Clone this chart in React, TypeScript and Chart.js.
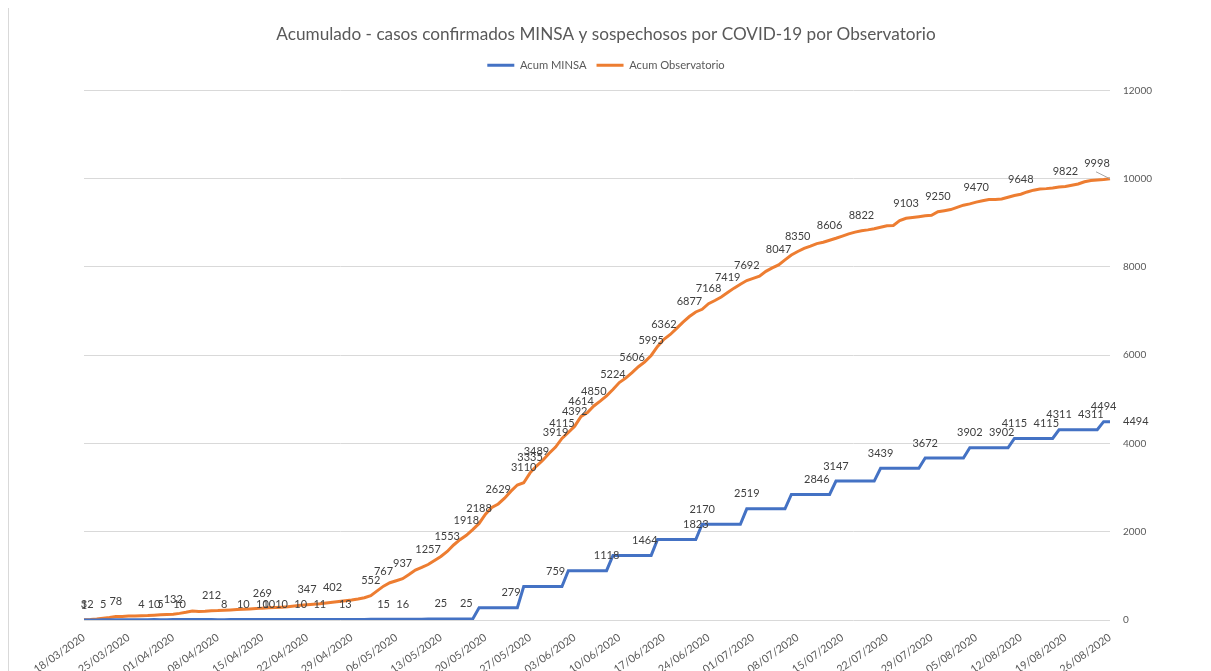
import React, { useEffect, useRef } from "react";
import { Chart, registerables } from "chart.js";

Chart.register(...registerables);

const TITLE = "Acumulado - casos confirmados MINSA y sospechosos por COVID-19 por Observatorio";
const SERIES_NAMES = ["Acum MINSA", "Acum Observatorio"];

// Daily categories 18/03/2020 .. 26/08/2020
const FIRST_DAY = "2020-03-18";
const DAY_COUNT = 162;
const dates: string[] = (() => {
  const out: string[] = [];
  const start = new Date(FIRST_DAY + "T00:00:00Z").getTime();
  for (let i = 0; i < DAY_COUNT; i++) {
    const d = new Date(start + i * 86400000);
    const dd = String(d.getUTCDate()).padStart(2, "0");
    const mm = String(d.getUTCMonth() + 1).padStart(2, "0");
    out.push(`${dd}/${mm}/${d.getUTCFullYear()}`);
  }
  return out;
})();

const minsa: number[] = [
  1, 2, 2, 5, 5, 5, 5, 5, 5, 4,
  5, 10, 5, 6, 9, 10, 10, 10, 10, 9,
  9, 8, 8, 9, 10, 10, 10, 10, 10, 10,
  10, 10, 10, 10, 10, 10, 11, 11, 12, 12,
  13, 13, 13, 14, 14, 15, 15, 15, 16, 16,
  16, 16, 16, 18, 20, 25, 25, 25, 25, 25,
  25, 25, 279, 279, 279, 279, 279, 279, 279, 759,
  759, 759, 759, 759, 759, 759, 1118, 1118, 1118, 1118,
  1118, 1118, 1118, 1464, 1464, 1464, 1464, 1464, 1464, 1464,
  1823, 1823, 1823, 1823, 1823, 1823, 1823, 2170, 2170, 2170,
  2170, 2170, 2170, 2170, 2519, 2519, 2519, 2519, 2519, 2519,
  2519, 2846, 2846, 2846, 2846, 2846, 2846, 2846, 3147, 3147,
  3147, 3147, 3147, 3147, 3147, 3439, 3439, 3439, 3439, 3439,
  3439, 3439, 3672, 3672, 3672, 3672, 3672, 3672, 3672, 3902,
  3902, 3902, 3902, 3902, 3902, 3902, 4115, 4115, 4115, 4115,
  4115, 4115, 4115, 4311, 4311, 4311, 4311, 4311, 4311, 4311,
  4494, 4494,
];

const observatorio: number[] = [
  3, 10, 22, 38, 55, 78, 82, 92, 90, 96,
  100, 108, 118, 125, 132, 150, 175, 205, 190, 198,
  212, 215, 222, 228, 236, 243, 250, 258, 269, 275,
  282, 290, 300, 315, 332, 347, 356, 368, 385, 402,
  418, 436, 455, 478, 505, 552, 660, 767, 845, 890,
  937, 1030, 1130, 1190, 1257, 1350, 1440, 1553, 1700, 1820,
  1918, 2050, 2188, 2400, 2550, 2629, 2760, 2920, 3060, 3110,
  3335, 3489, 3620, 3780, 3919, 4115, 4250, 4392, 4614, 4700,
  4850, 4960, 5080, 5224, 5380, 5480, 5606, 5740, 5850, 5995,
  6200, 6362, 6470, 6610, 6750, 6877, 6980, 7040, 7168, 7240,
  7320, 7419, 7520, 7610, 7692, 7740, 7790, 7900, 7980, 8047,
  8160, 8270, 8350, 8420, 8470, 8530, 8560, 8606, 8650, 8700,
  8750, 8790, 8822, 8840, 8865, 8900, 8935, 8940, 9050, 9103,
  9120, 9140, 9160, 9170, 9250, 9275, 9300, 9350, 9400, 9430,
  9470, 9500, 9530, 9530, 9540, 9580, 9620, 9648, 9700, 9740,
  9765, 9775, 9790, 9810, 9822, 9850, 9880, 9930, 9960, 9970,
  9980, 9998,
];

// Which points carry a value label
const minsaLabelDays = [0, 1, 3, 9, 11, 12, 15, 22, 25, 28, 29, 31, 34, 37, 41, 47, 50, 56, 60, 67, 74, 82, 88, 96, 97, 104, 115, 118, 125, 132, 139, 144, 146, 151, 153, 158, 160];
const obsLabelDays = [0, 5, 14, 20, 28, 35, 39, 45, 47, 50, 54, 57, 60, 62, 65, 69, 70, 71, 74, 75, 77, 78, 80, 83, 86, 89, 91, 95, 98, 101, 104, 109, 112, 117, 122, 129, 134, 140, 147, 154];

const Y_MIN = 0;
const Y_MAX = 12000;
const Y_STEP = 2000;
const X_TICK_EVERY = 7;

const FONT = "Lato, 'Liberation Sans', sans-serif";

const valueLabels = {
  id: "valueLabels",
  afterInit(chart: any) {
    // leave a little room between the legend and the plot area
    const lg = chart.legend;
    if (lg && !lg.__patched) {
      const fit = lg.fit.bind(lg);
      lg.fit = () => {
        fit();
        lg.height += 9.6;
      };
      lg.__patched = true;
    }
  },
  afterDatasetsDraw(chart: any) {
    const ctx = chart.ctx;
    ctx.save();
    ctx.font = `11px ${FONT}`;
    ctx.fillStyle = "#404040";
    ctx.textAlign = "center";
    ctx.textBaseline = "middle";
    const drawAbove = (dsIndex: number, days: number[]) => {
      const meta = chart.getDatasetMeta(dsIndex);
      const data = chart.data.datasets[dsIndex].data;
      days.forEach((d) => {
        const el = meta.data[d];
        if (!el) return;
        ctx.fillText(String(data[d]), el.x, el.y - 15);
      });
    };
    drawAbove(0, minsaLabelDays);
    drawAbove(1, obsLabelDays);

    // last MINSA point: label to the right
    const mMeta = chart.getDatasetMeta(0);
    const mLast = mMeta.data[minsa.length - 1];
    ctx.textAlign = "left";
    ctx.fillText(String(minsa[minsa.length - 1]), mLast.x + 13, mLast.y);

    // last Observatorio point: moved label with leader line
    const oMeta = chart.getDatasetMeta(1);
    const oLast = oMeta.data[observatorio.length - 1];
    ctx.textAlign = "center";
    ctx.fillText(String(observatorio[observatorio.length - 1]), oLast.x - 13, oLast.y - 15);
    ctx.strokeStyle = "#a6a6a6";
    ctx.lineWidth = 1;
    ctx.beginPath();
    ctx.moveTo(oLast.x - 14, oLast.y - 7);
    ctx.lineTo(oLast.x, oLast.y);
    ctx.stroke();
    ctx.restore();
  },
};

export default function App() {
  const canvasRef = useRef<HTMLCanvasElement | null>(null);

  useEffect(() => {
    if (!canvasRef.current) return;
    const chart = new Chart(canvasRef.current, {
      type: "line",
      data: {
        labels: dates,
        datasets: [
          {
            label: SERIES_NAMES[0],
            data: minsa,
            borderColor: "#4472C4",
            backgroundColor: "#4472C4",
            borderWidth: 3,
            pointRadius: 0,
            tension: 0,
          },
          {
            label: SERIES_NAMES[1],
            data: observatorio,
            borderColor: "#ED7D31",
            backgroundColor: "#ED7D31",
            borderWidth: 3,
            pointRadius: 0,
            tension: 0,
          },
        ],
      },
      options: {
        animation: false,
        responsive: true,
        maintainAspectRatio: false,
        layout: { padding: 0 },
        plugins: {
          title: {
            display: true,
            text: TITLE,
            color: "#595959",
            font: { family: FONT, size: 17.2, weight: "normal" },
            padding: { top: 16, bottom: 5 },
          },
          legend: {
            display: true,
            position: "top",
            labels: {
              color: "#595959",
              font: { family: FONT, size: 11.2 },
              boxWidth: 27,
              boxHeight: 3,
              padding: 10,
              generateLabels: (c: any) =>
                (Chart.defaults.plugins.legend.labels as any)
                  .generateLabels(c)
                  .map((it: any) => ({ ...it, lineWidth: 0 })),
            },
          },
          tooltip: { enabled: false },
        },
        scales: {
          x: {
            type: "category",
            grid: { display: false },
            border: { display: false },
            ticks: {
              autoSkip: false,
              minRotation: 35,
              maxRotation: 35,
              padding: 3,
              color: "#595959",
              font: { family: FONT, size: 10.8 },
              callback: (_v: any, i: number) => (i % X_TICK_EVERY === 0 ? dates[i] : null),
            },
            afterFit: (s: any) => {
              s.height = 51;
              s.paddingLeft = 75;
            },
          },
          y: {
            position: "right",
            min: Y_MIN,
            max: Y_MAX,
            grid: { color: "#d9d9d9", drawTicks: false, lineWidth: 1 },
            border: { display: false },
            ticks: {
              stepSize: Y_STEP,
              padding: 13,
              color: "#595959",
              font: { family: FONT, size: 10 },
              callback: (v: any) => String(v),
            },
            afterFit: (s: any) => {
              s.width = 93;
              s.paddingTop = 82;
            },
          },
        },
      },
      plugins: [valueLabels],
    });
    return () => chart.destroy();
  }, []);

  return (
    <div
      style={{
        position: "relative",
        width: 1195,
        height: 663,
        borderLeft: "1px solid #d9d9d9",
        boxSizing: "border-box",
        background: "#ffffff",
      }}
    >
      <canvas ref={canvasRef} />
    </div>
  );
}
